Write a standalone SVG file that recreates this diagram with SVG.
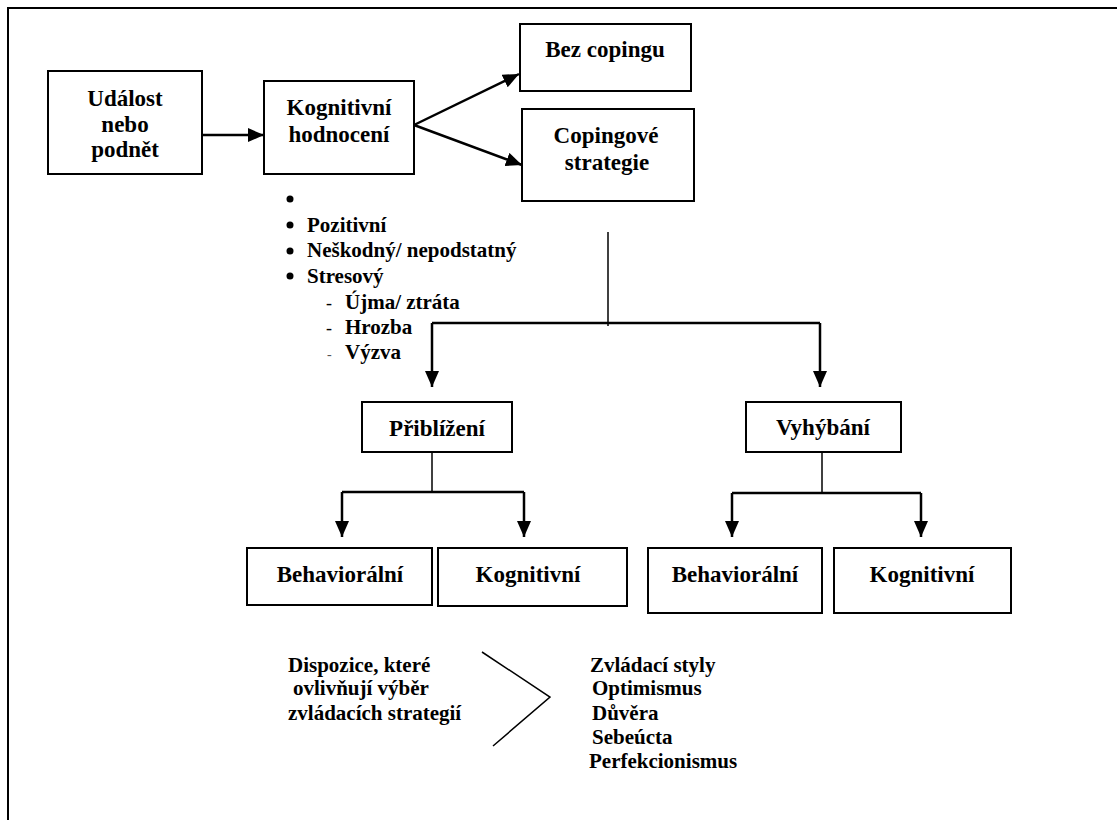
<svg xmlns="http://www.w3.org/2000/svg" width="1117" height="820" viewBox="0 0 1117 820">
  <style>
    .box { fill: #fff; stroke: #000; stroke-width: 2; }
    text { font-family: 'Liberation Serif', 'DejaVu Serif', 'Times New Roman', serif; font-weight: bold; fill: #000; }
    .t { font-size: 23px; text-anchor: middle; }
    .s { font-size: 21px; }
    .dash { font-weight: normal; font-size: 18px; }
    .ln { fill: none; stroke: #000; stroke-width: 2.5; }
    .thin { fill: none; stroke: #000; stroke-width: 1.5; }
  </style>
  <defs>
    <marker id="arrow" viewBox="0 0 16 14" refX="16" refY="7" markerWidth="16" markerHeight="14" markerUnits="userSpaceOnUse" orient="auto">
      <path d="M0,0 L16,7 L0,14 Z" fill="#000"/>
    </marker>
  </defs>

  <rect x="8" y="8" width="1130" height="840" fill="#fff" stroke="#000" stroke-width="2"/>

  <g id="connectors">
    <line class="ln" x1="202" y1="135" x2="264" y2="135" marker-end="url(#arrow)"/>
    <line class="ln" x1="414" y1="125" x2="519" y2="74" marker-end="url(#arrow)"/>
    <line class="ln" x1="414" y1="125" x2="522" y2="165" marker-end="url(#arrow)"/>
    <line class="thin" x1="608" y1="232" x2="608" y2="326"/>
    <line class="ln" x1="432" y1="323" x2="820" y2="323"/>
    <path class="ln" d="M432,323 V387" marker-end="url(#arrow)"/>
    <path class="ln" d="M820,323 V387" marker-end="url(#arrow)"/>
    <line class="thin" x1="432" y1="452" x2="432" y2="492"/>
    <line class="ln" x1="342" y1="492" x2="524" y2="492"/>
    <path class="ln" d="M342,492 V537" marker-end="url(#arrow)"/>
    <path class="ln" d="M524,492 V537" marker-end="url(#arrow)"/>
    <line class="thin" x1="822" y1="452" x2="822" y2="493"/>
    <line class="ln" x1="732" y1="493" x2="921" y2="493"/>
    <path class="ln" d="M732,493 V537" marker-end="url(#arrow)"/>
    <path class="ln" d="M921,493 V537" marker-end="url(#arrow)"/>
    <polyline class="thin" points="482,652 550,697 493,746"/>
  </g>

  <g id="udalost">
    <rect class="box" x="48" y="71" width="154" height="103"/>
    <text class="t" x="125" y="106">Událost</text>
    <text class="t" x="125" y="132">nebo</text>
    <text class="t" x="125" y="157">podnět</text>
  </g>

  <g id="kognitivni-hodnoceni">
    <rect class="box" x="264" y="81" width="150" height="93"/>
    <text class="t" x="339" y="115">Kognitivní</text>
    <text class="t" x="339" y="142">hodnocení</text>
  </g>

  <g id="bez-copingu">
    <rect class="box" x="520" y="24" width="171" height="67"/>
    <text class="t" x="605" y="57">Bez copingu</text>
  </g>

  <g id="copingove-strategie">
    <rect class="box" x="522" y="109" width="172" height="92"/>
    <text class="t" x="606" y="143">Copingové</text>
    <text class="t" x="607" y="170">strategie</text>
  </g>

  <g id="hodnoceni-seznam">
    <circle cx="290" cy="199" r="3.5" fill="#000"/>
    <circle cx="290" cy="225" r="3.5" fill="#000"/>
    <circle cx="290" cy="251" r="3.5" fill="#000"/>
    <circle cx="290" cy="276" r="3.5" fill="#000"/>
    <text class="s" x="307" y="232">Pozitivní</text>
    <text class="s" x="307" y="257">Neškodný/ nepodstatný</text>
    <text class="s" x="307" y="283">Stresový</text>
    <text class="s dash" x="326" y="309">-</text>
    <text class="s" x="345" y="309">Újma/ ztráta</text>
    <text class="s dash" x="326" y="334">-</text>
    <text class="s" x="345" y="334">Hrozba</text>
    <text class="s dash" x="327" y="359" style="font-size:14px;fill:#555">-</text>
    <text class="s" x="345" y="359">Výzva</text>
  </g>

  <g id="priblizeni">
    <rect class="box" x="362" y="402" width="150" height="50"/>
    <text class="t" x="437" y="436">Přiblížení</text>
  </g>

  <g id="vyhybani">
    <rect class="box" x="746" y="402" width="155" height="50"/>
    <text class="t" x="823" y="435">Vyhýbání</text>
  </g>

  <g id="priblizeni-behavioralni">
    <rect class="box" x="247" y="548" width="185" height="57"/>
    <text class="t" x="340" y="582">Behaviorální</text>
  </g>

  <g id="priblizeni-kognitivni">
    <rect class="box" x="438" y="548" width="189" height="58"/>
    <text class="t" x="528" y="582">Kognitivní</text>
  </g>

  <g id="vyhybani-behavioralni">
    <rect class="box" x="648" y="548" width="174" height="65"/>
    <text class="t" x="735" y="582">Behaviorální</text>
  </g>

  <g id="vyhybani-kognitivni">
    <rect class="box" x="834" y="548" width="177" height="65"/>
    <text class="t" x="922" y="582">Kognitivní</text>
  </g>

  <g id="dispozice">
    <text class="s" x="288" y="672">Dispozice, které</text>
    <text class="s" x="293" y="695">ovlivňují výběr</text>
    <text class="s" x="288" y="720">zvládacích strategií</text>
  </g>

  <g id="styly">
    <text class="s" x="590" y="672">Zvládací styly</text>
    <text class="s" x="592" y="695">Optimismus</text>
    <text class="s" x="592" y="720">Důvěra</text>
    <text class="s" x="592" y="744">Sebeúcta</text>
    <text class="s" x="589" y="768">Perfekcionismus</text>
  </g>
</svg>
